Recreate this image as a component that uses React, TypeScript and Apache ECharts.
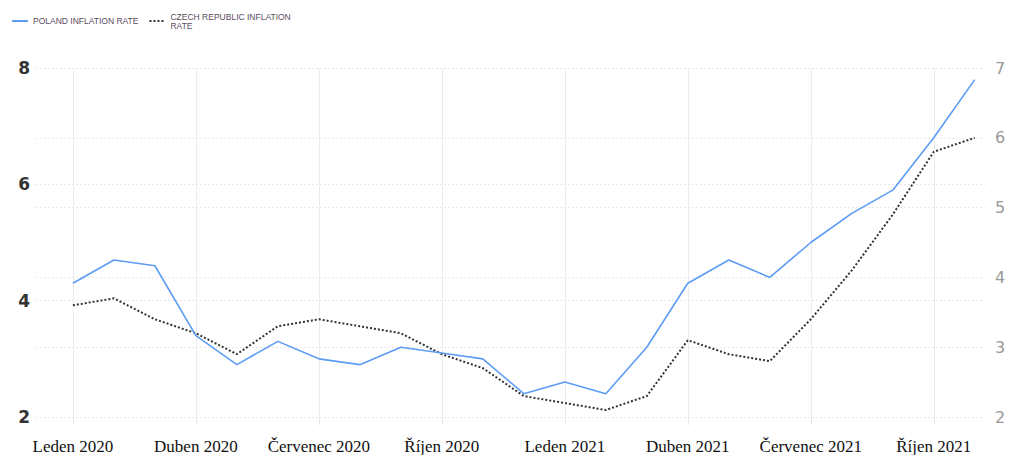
import React, { useEffect, useRef } from "react";
import * as echarts from "echarts";

const months = [
  "Leden 2020", "Únor 2020", "Březen 2020", "Duben 2020", "Květen 2020", "Červen 2020",
  "Červenec 2020", "Srpen 2020", "Září 2020", "Říjen 2020", "Listopad 2020", "Prosinec 2020",
  "Leden 2021", "Únor 2021", "Březen 2021", "Duben 2021", "Květen 2021", "Červen 2021",
  "Červenec 2021", "Srpen 2021", "Září 2021", "Říjen 2021", "Listopad 2021",
];
const labelIndexes = [0, 3, 6, 9, 12, 15, 18, 21];
const poland = [4.3, 4.7, 4.6, 3.4, 2.9, 3.3, 3.0, 2.9, 3.2, 3.1, 3.0, 2.4, 2.6, 2.4, 3.2, 4.3, 4.7, 4.4, 5.0, 5.5, 5.9, 6.8, 7.8];
const czech = [3.6, 3.7, 3.4, 3.2, 2.9, 3.3, 3.4, 3.3, 3.2, 2.9, 2.7, 2.3, 2.2, 2.1, 2.3, 3.1, 2.9, 2.8, 3.4, 4.1, 4.9, 5.8, 6.0];

const POLAND = "POLAND INFLATION RATE";
const CZECH = "CZECH REPUBLIC INFLATION RATE";

export default function App() {
  const ref = useRef<HTMLDivElement>(null);
  useEffect(() => {
    if (!ref.current) return;
    const chart = echarts.init(ref.current, null, { renderer: "svg" });
    const gridLine = { show: true, lineStyle: { color: "#e8e8e8", type: [2, 2] as any, width: 1 } };
    chart.setOption({
      animation: false,
      backgroundColor: "#ffffff",
      legend: {
        left: 6,
        top: 7,
        itemWidth: 16,
        itemHeight: 8,
        itemGap: 10,
        data: [POLAND, CZECH],
        itemStyle: { opacity: 0 },
        formatter: (name: string) => (name === CZECH ? "CZECH REPUBLIC INFLATION\nRATE" : name),
        textStyle: { fontSize: 8.5, color: "#5a4a5e", fontFamily: "Liberation Sans", lineHeight: 9 },
      },
      grid: { left: 36, right: 42, top: 68, bottom: 37, containLabel: false },
      xAxis: {
        type: "value",
        min: -0.9,
        max: 22.25,
        axisLine: { show: false },
        splitLine: { show: false },
        axisTick: {
          show: true,
          customValues: labelIndexes,
          length: 8,
          lineStyle: { color: "#e8e8e8" },
        },
        axisLabel: {
          customValues: labelIndexes,
          formatter: (v: number) => months[Math.round(v)] ?? "",
          fontFamily: "Liberation Serif",
          fontSize: 17,
          color: "#111",
          margin: 21,
        },
      },
      yAxis: [
        {
          type: "value",
          min: 2,
          max: 8,
          interval: 2,
          position: "left",
          axisLine: { show: false },
          axisTick: { show: false },
          splitLine: gridLine,
          axisLabel: {
            fontFamily: "DejaVu Sans",
            fontWeight: "bold",
            fontSize: 17,
            color: "#333",
            margin: 6,
          },
        },
        {
          type: "value",
          min: 2,
          max: 7,
          interval: 1,
          position: "right",
          axisLine: { show: false },
          axisTick: { show: false },
          splitLine: gridLine,
          axisLabel: {
            fontFamily: "DejaVu Sans",
            fontSize: 16,
            color: "#999",
            margin: 10,
          },
        },
      ],
      series: [
        {
          name: POLAND,
          type: "line",
          yAxisIndex: 0,
          data: poland.map((v, i) => [i, v]),
          symbol: "none",
          lineStyle: { color: "#5d9cf5", width: 1.6 },
          itemStyle: { color: "#5d9cf5" },
          markLine: {
            silent: true,
            symbol: "none",
            label: { show: false },
            lineStyle: { color: "#ececec", type: "solid", width: 1 },
            data: labelIndexes.map((i) => ({ xAxis: i })),
            z: 0,
          },
          z: 3,
        },
        {
          name: CZECH,
          type: "line",
          yAxisIndex: 1,
          data: czech.map((v, i) => [i, v]),
          symbol: "none",
          lineStyle: { color: "#333333", width: 2, type: "dotted" },
          itemStyle: { color: "#333333" },
          z: 2,
        },
      ],
    });
    return () => chart.dispose();
  }, []);
  return (
    <div
      ref={ref}
      style={{ position: "fixed", left: 0, top: 0, width: 1027, height: 455, background: "#fff" }}
    />
  );
}
